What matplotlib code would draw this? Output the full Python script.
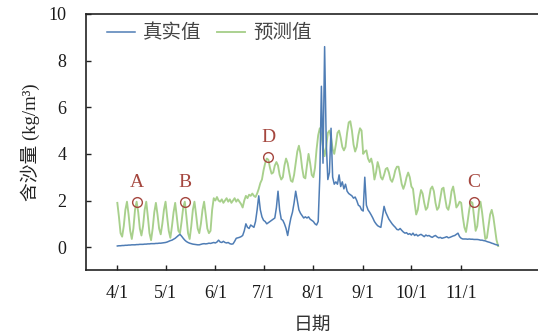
import matplotlib
matplotlib.use("Agg")
import matplotlib.pyplot as plt
import numpy as np
import pandas as pd

# ---------------- data ----------------
start_date = "2020-04-01"

real_values = [
    0.05, 0.06, 0.06, 0.07, 0.07, 0.08, 0.08, 0.09, 0.09, 0.10,
    0.10, 0.10, 0.11, 0.11, 0.12, 0.12, 0.12, 0.13, 0.13, 0.14,
    0.14, 0.15, 0.15, 0.15, 0.16, 0.16, 0.17, 0.17, 0.18, 0.19,
    0.20, 0.22, 0.25, 0.28, 0.30, 0.34, 0.38, 0.44, 0.50, 0.55,
    0.47, 0.38, 0.30, 0.24, 0.20, 0.17, 0.15, 0.13, 0.12, 0.11,
    0.10, 0.10, 0.12, 0.14, 0.15, 0.14, 0.15, 0.17, 0.16, 0.18,
    0.20, 0.18, 0.22, 0.30, 0.22, 0.20, 0.25, 0.20, 0.18, 0.20,
    0.15, 0.13, 0.14, 0.25, 0.38, 0.40, 0.42, 0.45, 0.50, 0.70,
    1.00, 0.85, 0.80, 0.95, 0.90, 0.85, 1.10, 1.60, 2.20, 1.60,
    1.30, 1.15, 1.10, 1.00, 1.05, 1.10, 1.15, 1.20, 1.25, 1.70,
    2.40, 1.60, 1.20, 1.15, 1.00, 0.80, 0.50, 0.90, 1.25, 1.50,
    1.90, 2.40, 2.00, 1.60, 1.45, 1.35, 1.25, 1.30, 1.25, 1.30,
    1.20, 1.15, 1.10, 1.00, 0.95, 1.10, 3.00, 6.90, 3.60, 8.60,
    4.50, 2.90, 3.20, 5.10, 3.00, 2.70, 2.80, 2.70, 3.10, 2.60,
    2.80, 2.50, 2.70, 2.40, 2.30, 2.25, 2.20, 2.10, 2.15, 2.00,
    1.80, 1.75, 1.60, 1.55, 3.00, 1.80, 1.60, 1.50, 1.38, 1.25,
    1.10, 1.00, 0.92, 0.88, 0.85, 1.30, 1.75, 1.50, 1.35, 1.20,
    1.10, 1.00, 0.92, 0.85, 0.76, 0.74, 0.80, 0.72, 0.65, 0.60,
    0.62, 0.55, 0.58, 0.52, 0.60, 0.50, 0.55, 0.48, 0.52, 0.55,
    0.50, 0.45, 0.52, 0.48, 0.50, 0.45, 0.42, 0.47, 0.50, 0.44,
    0.40, 0.42, 0.38, 0.40, 0.42, 0.45, 0.40, 0.42, 0.45, 0.48,
    0.50, 0.55, 0.60, 0.45, 0.38, 0.35, 0.35, 0.35, 0.34, 0.35,
    0.34, 0.34, 0.33, 0.33, 0.33, 0.32, 0.30, 0.30, 0.28, 0.27,
    0.24, 0.22, 0.20, 0.17, 0.15, 0.12, 0.10, 0.08,
]

pred_values = [
    1.90, 1.30, 0.60, 0.45, 0.90, 1.60,
    1.95, 1.40, 0.70, 0.35, 0.80, 1.60,
    1.95, 1.50, 0.80, 0.50, 0.90, 1.60,
    1.95, 1.30, 0.60, 0.30, 0.80, 1.50,
    1.90, 1.40, 0.80, 0.55, 1.00, 1.60,
    1.95, 1.30, 0.70, 0.40, 0.90, 1.50,
    1.90, 1.30, 0.70, 0.60, 1.10, 1.70,
    1.95, 1.30, 0.60, 0.35, 0.90, 1.60,
    1.95, 1.40, 0.80, 0.60, 1.00, 1.60,
    1.95, 1.40, 0.80, 0.60, 0.70, 1.60,
    2.10, 2.00, 2.15, 2.00, 1.95, 2.05, 1.90, 2.00, 2.10, 1.95,
    2.05, 1.90, 2.00, 2.10, 1.95, 2.05, 1.95, 1.85, 1.70, 2.00,
    2.20, 2.10, 2.25, 2.20, 2.30, 2.20, 2.15, 2.30, 2.50, 2.75,
    2.90, 3.30, 3.60, 3.80, 3.75, 3.40, 3.15, 3.20, 3.50, 3.65,
    3.50, 3.10, 2.90, 3.00, 3.50, 3.80, 3.60, 3.20, 2.85, 2.80,
    3.10, 3.60, 4.10, 4.35, 4.00, 3.40, 3.00, 2.95, 3.50, 4.00,
    3.60, 3.10, 3.00, 3.40, 4.20, 4.80, 5.10, 4.80, 4.30, 3.90,
    4.30, 4.90, 5.00, 4.70, 4.20, 4.00, 4.40, 4.90, 5.00, 4.70,
    4.30, 4.15, 4.30, 4.90, 5.35, 5.40, 5.00, 4.40, 4.10, 4.30,
    4.80, 5.10, 5.00, 4.00, 4.10, 4.15, 3.80, 3.65, 3.80, 3.50,
    2.90, 3.20, 3.65, 3.40, 3.00, 2.90, 3.10, 3.35, 3.40, 3.20,
    2.90, 2.80, 3.00, 3.30, 3.45, 3.45, 3.10, 2.70, 2.50, 2.70,
    3.00, 3.20, 3.00, 2.60, 2.50, 1.90, 1.40, 1.60, 2.10, 2.45,
    2.30, 1.90, 1.60, 1.70, 2.10, 2.50, 2.60, 2.40, 1.90, 1.60,
    1.70, 2.10, 2.50, 2.55, 2.10, 1.70, 1.60, 1.90, 2.40, 2.60,
    2.20, 1.70, 1.80, 1.95, 1.90, 1.30, 0.85, 0.65, 1.10, 1.60,
    1.95, 1.90, 1.30, 0.70, 0.90, 1.60, 1.95, 1.50, 0.90, 0.35,
    0.40, 0.90, 1.40, 1.60, 1.30, 0.80, 0.30, 0.05, 0.40, 1.00,
    1.50, 1.60, 0.80, 0.05,
]

series_names = ["真实值", "预测值"]
tick_labels = ["4/1", "5/1", "6/1", "7/1", "8/1", "9/1", "10/1", "11/1"]
tick_dates = ["2020-04-01", "2020-05-01", "2020-06-01", "2020-07-01",
              "2020-08-01", "2020-09-01", "2020-10-01", "2020-11-01"]
y_ticks = [0, 2, 4, 6, 8, 10]

anno_labels = ["A", "B", "D", "C"]
anno_dates = ["2020-04-13", "2020-05-13", "2020-07-04", "2020-11-09"]
anno_values = [1.93, 1.93, 3.85, 1.95]

x_label = "日期"
y_label = "含沙量 (kg/m³)"

# ---------------- plot ----------------
n = min(len(real_values), len(pred_values))
dates = pd.date_range(start_date, periods=n, freq="D")

SERIF = ["Liberation Serif", "Noto Sans CJK SC"]
CJK = ["Noto Sans CJK SC", "DejaVu Sans"]

fig = plt.figure(figsize=(5.38, 3.36), dpi=100)
ax = fig.add_axes([86 / 538, 66 / 336, 1 - 86 / 538, 256 / 336])

blue = "#4f7db5"
green = "#a8d08c"
red = "#a5473f"

ax.plot(dates, real_values[:n], color=blue, lw=1.1, label=series_names[0], zorder=3)
ax.plot(dates, pred_values[:n], color=green, lw=1.35, label=series_names[1], zorder=2)

for lab, d, v in zip(anno_labels, anno_dates, anno_values):
    dt = pd.Timestamp(d)
    ax.plot([dt], [v], marker="o", ms=7, mfc="none", mec=red, mew=1.0, zorder=4)
    ax.annotate(lab, xy=(dt, v), xytext=(0, 14), textcoords="offset points",
                ha="center", va="center", color=red, fontsize=14, family=SERIF)

t0 = pd.Timestamp(start_date)
ax.set_xlim(t0 - pd.Timedelta(days=19.5), t0 + pd.Timedelta(days=261.8))
ax.set_ylim(-0.98, 10)

ax.set_xticks([pd.Timestamp(d) for d in tick_dates])
ax.set_xticklabels(tick_labels)
ax.set_yticks(y_ticks)
ax.set_yticklabels([str(t) for t in y_ticks])

ax.tick_params(axis="x", direction="in", length=3.3, width=1.0, pad=11, colors="#222222")
ax.tick_params(axis="y", direction="in", length=3.3, width=1.0, pad=14, colors="#222222")
for lbl in ax.get_xticklabels() + ax.get_yticklabels():
    lbl.set_family(SERIF)
    lbl.set_fontsize(13)
    lbl.set_color("#1a1a1a")

for side in ["left", "top", "bottom"]:
    ax.spines[side].set_linewidth(1.2)
    ax.spines[side].set_color("#222222")
ax.spines["right"].set_visible(False)

ax.set_xlabel(x_label, family=CJK, fontsize=13.5, color="#333333", labelpad=8.5)
ax.set_ylabel(y_label, family=SERIF, fontsize=13.5, color="#222222", labelpad=6)

leg = ax.legend(loc="center left", bbox_to_anchor=(0.046, 0.926), ncol=2,
                frameon=False, borderpad=0, borderaxespad=0,
                handlelength=1.45, handletextpad=0.4, columnspacing=0.8,
                prop={"family": CJK, "size": 14})
for t in leg.get_texts():
    t.set_color("#444444")

fig.savefig("out.png", dpi=100)
